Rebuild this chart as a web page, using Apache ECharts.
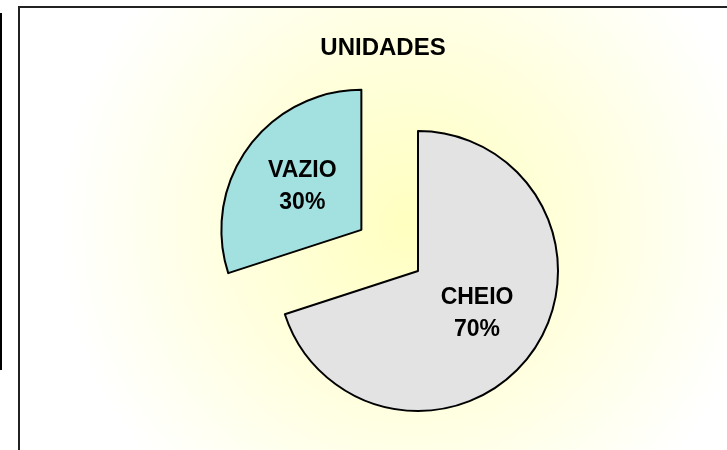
<!DOCTYPE html>
<html>
<head>
<meta charset="utf-8">
<script src="https://cdn.jsdelivr.net/npm/echarts@6/dist/echarts.min.js"></script>
<style>
    html, body { margin: 0; padding: 0; background: #fff; }
    #chart { width: 727px; height: 450px; }
</style>
</head>
<body>
<div id="chart"></div>
<script>
// dados do gráfico
const categories = ['CHEIO', 'VAZIO'];
const values = [70, 30];
const colors = ['#E3E3E3', '#A3E0E0'];
const explodedName = 'VAZIO';

const chart = echarts.init(document.getElementById('chart'));

chart.setOption({
    animation: false,
    backgroundColor: '#fff',
    title: {
        text: 'UNIDADES',
        left: 378,
        top: 31,
        textAlign: 'center',
        textStyle: {
            fontFamily: 'Liberation Sans',
            fontWeight: 'bold',
            fontSize: 24,
            color: '#000'
        }
    },
    graphic: [
        // moldura com fundo em degradê
        {
            type: 'rect',
            z: -10,
            shape: { x: 19, y: 7, width: 720, height: 460 },
            style: {
                fill: new echarts.graphic.RadialGradient(410, 225, 350, [
                    { offset: 0, color: '#FFFFC0' },
                    { offset: 0.5, color: '#FFFFDE' },
                    { offset: 1, color: '#FFFFFF' }
                ], true),
                stroke: '#222',
                lineWidth: 2
            }
        },
        // barra preta à esquerda
        {
            type: 'rect',
            z: -10,
            shape: { x: 0, y: 13, width: 2, height: 357 },
            style: { fill: '#000' }
        }
    ],
    series: [{
        type: 'pie',
        center: [418, 271],
        radius: 140,
        startAngle: 90,
        clockwise: true,
        selectedMode: 'single',
        selectedOffset: 70,
        silent: true,
        label: {
            show: true,
            position: 'inside',
            fontFamily: 'Liberation Sans',
            fontWeight: 'bold',
            fontSize: 23,
            lineHeight: 32,
            color: '#000',
            formatter: p => p.name + '\n' + Math.round(p.percent) + '%'
        },
        labelLine: { show: false },
        itemStyle: {
            borderColor: '#000',
            borderWidth: 2
        },
        emphasis: { disabled: true },
        data: categories.map((name, i) => ({
            name: name,
            value: values[i],
            selected: name === explodedName,
            itemStyle: { color: colors[i] }
        }))
    }]
});
</script>
</body>
</html>
